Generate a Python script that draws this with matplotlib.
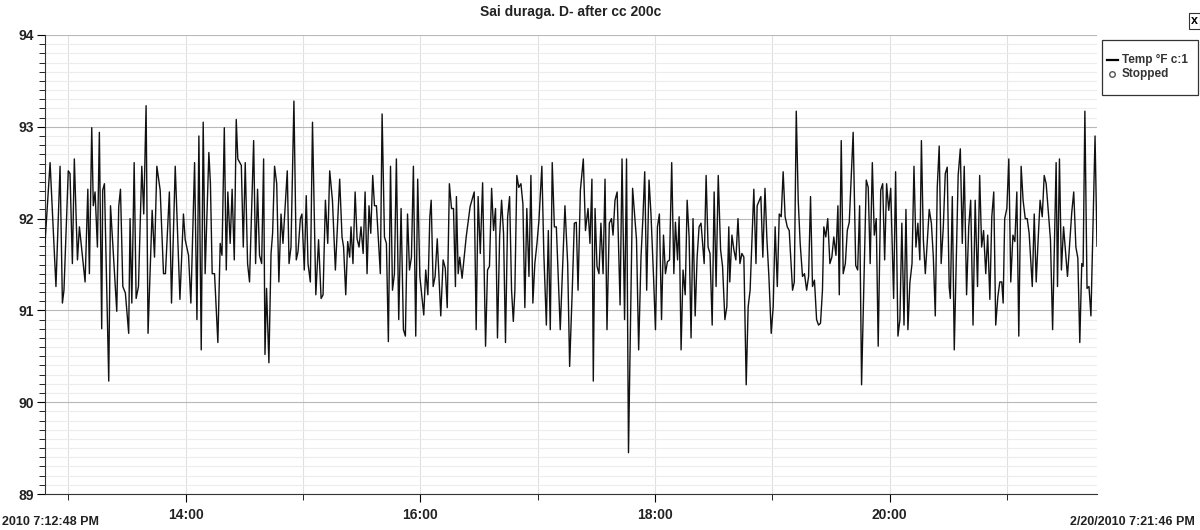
import numpy as np
import matplotlib
matplotlib.use("Agg")
from matplotlib import pyplot as plt
from matplotlib.lines import Line2D
from matplotlib.patches import Rectangle
from matplotlib.ticker import MultipleLocator, FixedLocator

plt.rcParams['font.family'] = ['Liberation Sans', 'DejaVu Sans']

# seconds after 7:12:48 PM
secs = [
    0, 2.6, 5.6, 7.7, 8.9, 9.7, 11.9, 12.8, 14.0, 15.0, 16.6, 17.6, 18.8, 20.5, 21.9, 22.7, 23.9, 24.7,
    25.6, 26.8, 27.8, 29.0, 29.5, 30.4, 32.6, 33.5, 36.7, 37.7, 38.6, 39.8, 41.1, 42.8, 43.5, 44.4,
    45.6, 46.6, 47.8, 49.5, 50.5, 51.7, 52.7, 54.8, 56.0, 57.2, 58.9, 60.6, 61.6, 63.6, 64.7, 66.6, 69.0,
    70.8, 71.7, 73.4, 74.6, 76.5, 77.7, 78.7, 79.9, 80.9, 81.9, 83.8, 84.6, 85.5, 86.7, 88.4, 89.6,
    90.5, 91.7, 92.7, 93.5, 94.7, 95.7, 96.8, 97.8, 98.6, 100.4, 101.4, 102.4, 103.6, 104.6, 106.7,
    107.7, 108.7, 109.7, 110.8, 111.8, 112.5, 113.3, 114.5, 115.6, 116.4, 117.4, 118.5, 119.6, 120.7,
    121.7, 123.9, 124.8, 125.8, 127.3, 128.5, 129.4, 130.6, 131.4, 132.6, 133.6, 134.5, 135.7, 136.8,
    138.5, 139.9, 141.2, 142.2, 143.4, 144.6, 145.6, 147.0, 148.5, 150.7, 151.9, 152.7, 153.8, 154.8,
    155.8, 156.5, 157.5, 158.6, 159.6, 160.6, 161.6, 162.7, 163.7, 164.7, 165.7, 166.6, 167.6, 168.5,
    169.5, 171.5, 172.4, 173.6, 174.6, 175.6, 176.7, 177.7, 178.7, 179.7, 180.9, 182.1, 183.3, 184.3,
    185.4, 186.4, 187.4, 188.4, 189.6, 190.6, 191.7, 193.7, 194.7, 195.8, 196.8, 197.5, 198.5, 199.5,
    200.6, 202.4, 203.6, 204.7, 205.7, 206.8, 207.9, 208.9, 209.9, 210.4, 211.3, 212.1, 213.3, 215.4,
    217.4, 219.5, 220.5, 221.5, 222.6, 223.8, 225.3, 226.3, 227.3, 228.4, 229.4, 230.4, 231.4, 232.5,
    233.5, 234.5, 235.5, 236.6, 237.6, 238.6, 239.5, 240.3, 241.3, 242.3, 243.4, 244.4, 245.4, 246.4,
    247.5, 248.5, 249.5, 250.5, 251.6, 252.6, 254.1, 255.1, 256.4, 257.4, 258.4, 259.4, 260.5, 261.5,
    263.5, 265.9, 267.3, 268.3, 269.7, 270.7, 271.7, 272.6, 273.8, 275.3, 276.4, 277.7, 278.7, 279.7,
    280.4, 281.3, 282.3, 283.3, 284.3, 285.4, 286.4, 287.4, 288.6, 289.7, 290.5, 291.5, 292.6, 294.1,
    295.1, 296.4, 297.4, 298.4, 300.5, 301.5, 302.5, 303.6, 304.8, 305.8, 306.7, 307.7, 308.9, 309.9,
    311.2, 312.2, 313.2, 314.2, 315.3, 316.3, 317.3, 318.3, 319.4, 320.5, 321.6, 322.4, 323.5, 324.3,
    325.3, 326.3, 327.4, 328.4, 329.4, 330.4, 331.4, 332.5, 333.5, 334.5, 335.5, 337.1, 338.1, 339.1,
    340.1, 341.2, 342.2, 343.2, 344.3, 345.5, 346.5, 347.7, 348.7, 349.7, 350.2, 351.3, 352.3, 353.3,
    354.4, 355.4, 356.4, 357.4, 358.6, 359.6, 360.6, 362.5, 363.6, 364.2, 366.1, 367.1, 368.2, 369.2,
    370.2, 371.4, 372.4, 373.4, 374.5, 375.5, 376.5, 377.5, 378.5, 379.6, 380.6, 382.3, 383.2, 384.2,
    385.2, 386.2, 387.4, 388.4, 389.5, 390.5, 391.5, 392.5, 393.5, 394.6, 395.6, 396.6, 397.6, 398.3,
    399.3, 400.3, 401.4, 402.4, 403.4, 404.5, 405.5, 406.2, 407.2, 408.2, 409.3, 410.3, 411.3, 413.3,
    414.6, 415.6, 416.6, 417.6, 418.9, 420.0, 421.0, 422.0, 423.1, 424.1, 425.1, 426.1, 427.4, 428.4,
    429.4, 430.4, 431.5, 432.5, 434.0, 435.0, 436.2, 437.2, 438.2, 439.3, 440.3, 441.3, 442.3, 443.4,
    444.4, 445.4, 446.4, 447.4, 448.2, 449.2, 450.2, 452.2, 453.3, 454.3, 455.3, 456.3, 457.3, 458.3,
    459.4, 460.4, 461.4, 462.4, 463.0, 464.0, 465.0, 467.0, 468.1, 469.1, 470.1, 471.3, 472.4, 473.4,
    474.6, 475.7, 476.9, 478.0, 479.0, 480.0, 481.1, 482.1, 483.2, 484.2, 485.2, 486.2, 487.3, 488.3,
    489.3, 490.0, 490.8, 491.9, 492.9, 493.9, 495.0, 496.0, 497.0, 498.0, 499.2, 500.2, 501.3, 502.3,
    503.3, 504.9, 505.9, 506.9, 507.9, 508.9, 510.0, 511.0, 512.0, 514.2, 515.3, 517.1, 517.8, 518.8,
    519.8, 520.9, 522.9, 525.1, 526.1, 527.2, 528.2, 529.2, 530.2, 530.9, 531.8, 532.9, 533.9, 534.9,
    537.0, 538.0,
]

temp_f = [
    91.73, 92.61, 91.26, 92.57, 91.08, 91.22, 92.52, 92.49, 91.51, 92.65, 91.55, 91.91, 91.66, 91.31, 92.32, 91.40, 92.99, 92.14,
    92.29, 91.69, 92.94, 90.80, 92.31, 92.38, 90.23, 92.14, 90.99, 92.13, 92.32, 91.26, 91.19, 90.75, 92.00, 91.08,
    92.61, 91.13, 91.26, 92.57, 92.05, 93.23, 90.75, 92.09, 91.58, 92.57, 92.31, 91.40, 91.40, 92.29, 91.08, 92.57, 91.12,
    92.05, 91.77, 91.60, 91.08, 92.61, 90.90, 92.90, 90.57, 93.05, 91.40, 92.72, 92.38, 91.40, 91.40, 90.65, 91.73,
    91.60, 92.99, 91.44, 92.29, 91.73, 92.32, 91.55, 93.08, 92.65, 92.58, 91.69, 92.61, 91.51, 91.31, 92.85,
    91.51, 92.32, 91.60, 91.51, 92.65, 90.52, 91.24, 90.43, 91.62, 91.84, 92.57, 92.38, 91.31, 92.05,
    91.73, 92.52, 91.51, 91.69, 93.28, 91.55, 91.64, 92.00, 92.05, 91.44, 92.25, 91.51, 91.31, 93.05,
    91.17, 91.77, 91.13, 91.17, 92.20, 91.73, 92.52, 92.20, 91.44, 92.43, 91.80, 91.69, 91.17, 91.75,
    91.58, 91.91, 91.51, 92.29, 91.78, 91.69, 91.91, 91.62, 92.29, 91.40, 92.14, 91.84, 92.47, 92.14,
    92.14, 91.40, 93.14, 91.80, 91.73, 90.66, 92.57, 91.22, 91.40, 92.65, 90.90, 92.11, 90.79, 90.72,
    92.05, 91.44, 91.58, 92.57, 90.72, 92.43, 91.37, 90.95, 91.44, 91.17, 92.02, 92.20, 91.26, 91.37,
    91.78, 90.94, 91.55, 91.46, 91.03, 92.38, 92.11, 92.11, 91.26, 92.24, 91.40, 91.58, 91.35, 91.80,
    92.13, 92.29, 90.79, 92.24, 91.62, 92.39, 90.61, 91.44, 91.48, 92.33, 91.87, 92.11, 90.70, 91.80,
    92.20, 91.84, 90.65, 92.02, 92.24, 91.22, 90.88, 91.22, 92.47, 92.34, 92.38, 92.16, 91.03, 92.11,
    91.37, 92.47, 91.08, 91.51, 91.73, 91.98, 92.57, 91.62, 90.84, 91.87, 90.79, 92.61, 91.91, 91.91,
    90.79, 92.14, 91.51, 90.39, 91.26, 91.95, 91.96, 91.22, 92.31, 92.65, 91.87, 92.11, 91.73, 92.43,
    90.23, 92.11, 91.48, 91.40, 91.95, 91.40, 92.43, 90.79, 91.95, 92.00, 91.82, 92.20, 92.29, 91.06,
    92.65, 90.90, 92.65, 89.45, 92.33, 92.05, 91.77, 90.57, 91.58, 92.02, 92.51, 91.22, 92.42, 92.05,
    91.37, 90.79, 91.91, 92.05, 90.90, 91.82, 91.40, 91.53, 91.55, 92.61, 91.40, 91.96, 91.55, 92.02,
    90.57, 91.44, 91.17, 92.20, 91.80, 90.70, 92.00, 90.94, 91.58, 91.91, 91.95, 91.51, 92.47, 91.69,
    91.62, 90.84, 92.29, 91.26, 92.47, 91.66, 91.48, 90.90, 91.04, 91.91, 91.31, 91.82, 91.66, 91.55,
    92.00, 91.51, 91.62, 91.58, 90.19, 91.04, 91.22, 92.32, 91.51, 92.14, 92.24, 91.58, 92.33, 91.77,
    91.37, 90.75, 91.04, 91.91, 91.26, 92.05, 92.02, 92.51, 92.02, 91.91, 91.87, 91.22, 91.31, 93.17,
    92.20, 91.73, 91.37, 91.40, 91.22, 91.37, 92.24, 91.26, 91.33, 90.90, 90.84, 90.86, 91.22, 91.91,
    91.80, 92.00, 91.51, 91.58, 91.80, 91.60, 92.14, 91.17, 92.85, 91.40, 91.51, 91.87, 91.96, 92.94,
    91.49, 91.44, 92.14, 90.19, 91.37, 92.42, 92.34, 91.51, 92.61, 91.82, 92.00, 90.61, 92.31, 92.38,
    91.55, 92.38, 92.09, 92.33, 91.13, 92.51, 90.72, 90.90, 91.95, 90.84, 92.10, 90.79, 91.30, 91.51,
    92.57, 91.69, 91.95, 91.55, 92.85, 91.77, 91.40, 92.10, 91.95, 91.58, 90.94, 92.34, 92.79, 91.51,
    91.91, 92.49, 92.56, 91.26, 91.13, 92.24, 90.57, 92.47, 92.76, 91.73, 92.57, 91.17, 91.91, 92.20,
    90.84, 92.20, 91.26, 92.47, 91.69, 91.87, 91.40, 91.82, 91.12, 92.02, 92.29, 90.84, 91.15, 91.31,
    91.31, 91.08, 92.00, 92.11, 92.65, 91.31, 91.82, 91.75, 92.29, 90.72, 92.57, 92.20, 92.00, 92.00,
    91.84, 91.26, 92.05, 91.31, 91.77, 92.20, 92.02, 92.47, 92.38, 91.77, 90.79, 92.61, 91.26, 92.65,
    91.44, 91.91, 91.37, 92.07, 92.29, 91.69, 91.57, 90.65, 91.51, 91.48, 93.17, 91.24, 91.26, 90.94,
    92.90, 91.70,
]

# axis labels: minutes past 7 PM
major_secs = [72, 192, 312, 432]
major_labels = ['14:00', '16:00', '18:00', '20:00']
minute_secs = [12, 72, 132, 192, 252, 312, 372, 432, 492]
start_label = '2010 7:12:48 PM'
end_label = '2/20/2010 7:21:46 PM'
title = 'Sai duraga. D- after cc 200c'
legend_labels = ['Temp °F c:1', 'Stopped']


def fx(px):
    return px / 1200


def fy(py):
    return 1 - py / 530


fig = plt.figure(figsize=(12, 5.3), dpi=100)
ax = fig.add_axes([fx(45), fy(494), fx(1097 - 45), (494 - 35) / 530])

ax.plot(secs, temp_f, color='#111111', lw=1.0, zorder=3)

ax.set_xlim(0, 538)
ax.set_ylim(89, 94)

ax.yaxis.set_major_locator(MultipleLocator(1))
ax.yaxis.set_minor_locator(MultipleLocator(0.1))
ax.xaxis.set_major_locator(FixedLocator(major_secs))
ax.xaxis.set_minor_locator(FixedLocator(minute_secs))
ax.set_xticklabels(major_labels)

ax.grid(True, which='major', axis='y', color='#b8b8b8', lw=0.8)
ax.grid(True, which='minor', axis='y', color='#ececec', lw=0.8)
ax.grid(True, which='both', axis='x', color='#e0e0e0', lw=0.8)
ax.set_axisbelow(True)

for s in ['top', 'right']:
    ax.spines[s].set_visible(False)
ax.spines['left'].set_color('#333333')
ax.spines['bottom'].set_color('#333333')

ax.tick_params(axis='y', which='major', length=6, labelsize=10, pad=2)
ax.tick_params(axis='y', which='minor', length=4)
ax.tick_params(axis='x', which='major', length=6, labelsize=10, pad=4)
ax.tick_params(axis='x', which='minor', length=4)
for lab in ax.get_xticklabels() + ax.get_yticklabels():
    lab.set_fontweight('bold')
    lab.set_color('#222222')

ax.set_title(title, fontsize=10, fontweight='bold', pad=14, color='#222222')

fig.text(fx(2), fy(522), start_label, fontsize=9, fontweight='bold',
         ha='left', va='center', color='#222222')
fig.text(fx(1195), fy(522), end_label, fontsize=9, fontweight='bold',
         ha='right', va='center', color='#222222')

# legend box drawn by hand so it sits in the right margin like the original
fig.add_artist(Rectangle((fx(1102), fy(95)), fx(96), 55 / 530, transform=fig.transFigure,
                         fc='white', ec='#333333', lw=0.9))
fig.add_artist(Line2D([fx(1107), fx(1118)], [fy(60), fy(60)], transform=fig.transFigure,
                      color='black', lw=1.6))
fig.add_artist(Line2D([fx(1112)], [fy(74)], transform=fig.transFigure, marker='o',
                      markersize=4, markerfacecolor='white', markeredgecolor='#555555', lw=0))
fig.text(fx(1122), fy(60), legend_labels[0], fontsize=8.5, fontweight='bold',
         ha='left', va='center', color='#333333')
fig.text(fx(1122), fy(74), legend_labels[1], fontsize=8.5, fontweight='bold',
         ha='left', va='center', color='#333333')

fig.text(fx(1191), fy(21), 'x', fontsize=9, fontweight='bold', ha='left', va='center',
         bbox=dict(boxstyle='square,pad=0.15', fc='white', ec='#333333', lw=0.8))

fig.savefig('out.png', dpi=100)
